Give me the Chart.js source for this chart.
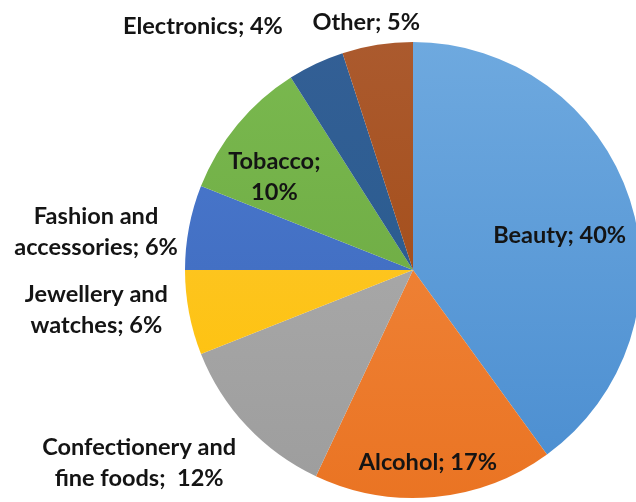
<!DOCTYPE html>
<html>
<head>
<meta charset="utf-8">
<script src="https://cdn.jsdelivr.net/npm/chart.js@4/dist/chart.umd.min.js"></script>
<style>
  html, body { margin: 0; padding: 0; background: #fff; overflow: hidden; }
  #wrap { width: 660px; height: 502px; }
</style>
</head>
<body>
<div id="wrap"><canvas id="pieChart"></canvas></div>
<script>
// data
var categories = ["Beauty", "Alcohol", "Confectionery and fine foods", "Jewellery and watches",
                  "Fashion and accessories", "Tobacco", "Electronics", "Other"];
var shares = [40, 17, 12, 6, 6, 10, 4, 5];
var labelLines = [
    ["Beauty; 40%"],
    ["Alcohol; 17%"],
    ["Confectionery and", "fine foods;  12%"],
    ["Jewellery and", "watches; 6%"],
    ["Fashion and", "accessories; 6%"],
    ["Tobacco;", "10%"],
    ["Electronics; 4%"],
    ["Other; 5%"]
];

// colours: [top, bottom] of each slice's gradient
var sliceColors = [
    ["#6ea9df", "#4a8dd0"],
    ["#f28c45", "#ea7423"],
    ["#b0b0b0", "#9d9d9d"],
    ["#fbc93c", "#ffc000"],
    ["#4c7bd0", "#3a65b8"],
    ["#7ab94f", "#68a43e"],
    ["#335f95", "#245a8c"],
    ["#ab5a2e", "#a0460c"]
];
// label placement: distance from centre in radii, angle nudge in degrees
var labelRadius = [0.66, 0.85, 1.47, 1.40, 1.40, 0.73, 1.41, 1.105];
var labelNudge = [5, 1, 8, 3.5, -4, -6, -15.6, -1.7];

function sliceFill(ctx) {
    var chart = ctx.chart;
    var area = chart.chartArea;
    var c = sliceColors[ctx.dataIndex];
    if (!area) return c[1];
    var g = chart.ctx.createLinearGradient(0, area.top, 0, area.bottom);
    g.addColorStop(0, c[0]);
    g.addColorStop(1, c[1]);
    return g;
}

var labelPlugin = {
    id: 'sliceLabels',
    afterDatasetsDraw: function(chart) {
        var ctx = chart.ctx;
        var arcs = chart.getDatasetMeta(0).data;
        ctx.save();
        ctx.font = "bold 22px Lato";
        ctx.fillStyle = "#141414";
        ctx.textAlign = "center";
        ctx.textBaseline = "middle";
        for (var i = 0; i < arcs.length; i++) {
            var a = arcs[i];
            var mid = (a.startAngle + a.endAngle) / 2 + labelNudge[i] * Math.PI / 180;
            var r = a.outerRadius * labelRadius[i];
            var x = a.x + Math.cos(mid) * r;
            var y = a.y + Math.sin(mid) * r;
            var lines = labelLines[i];
            var lh = 31;
            var y0 = y - (lines.length - 1) * lh / 2;
            for (var j = 0; j < lines.length; j++) {
                ctx.save();
                ctx.translate(x, y0 + j * lh);
                ctx.scale(1.07, 1);
                ctx.fillText(lines[j], 0, 0);
                ctx.restore();
            }
        }
        ctx.restore();
    }
};

var ctxP = document.getElementById("pieChart");
var pie = new Chart(ctxP, {
    type: 'pie',
    data: {
        labels: categories,
        datasets: [{
            data: shares,
            backgroundColor: sliceFill,
            borderWidth: 0
        }]
    },
    options: {
        responsive: true,
        maintainAspectRatio: false,
        animation: false,
        layout: { padding: { left: 185, right: 19, top: 42, bottom: 4 } },
        plugins: {
            legend: { display: false },
            tooltip: { enabled: false }
        }
    },
    plugins: [labelPlugin]
});
</script>
</body>
</html>
